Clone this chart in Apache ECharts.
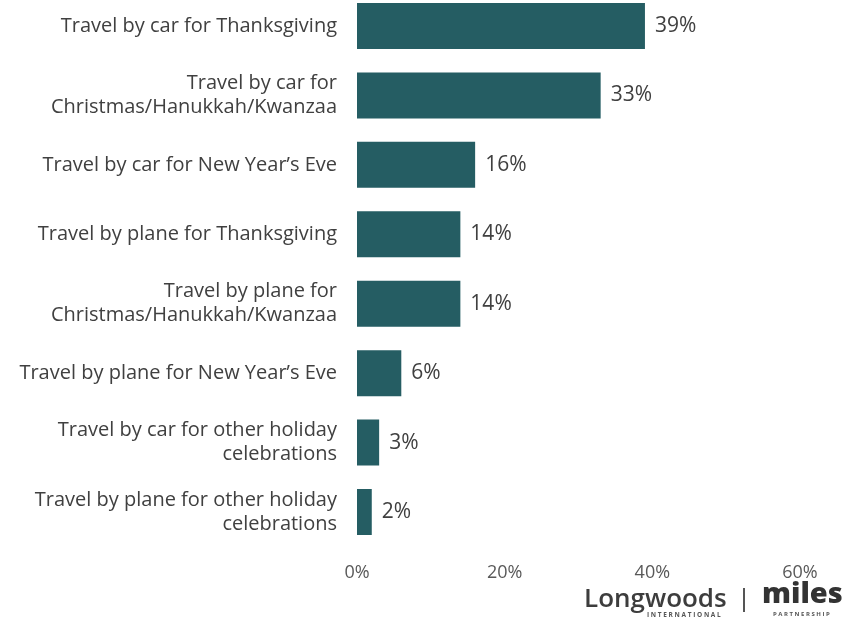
<!DOCTYPE html>
<html>
<head>
<meta charset="utf-8">
<script src="https://cdn.jsdelivr.net/npm/echarts@6/dist/echarts.min.js"></script>
<style>
  html, body { margin: 0; padding: 0; background: #fff; }
  #chart { width: 846px; height: 620px; }
</style>
</head>
<body>
<div id="chart"></div>
<script>
// Holiday travel intentions, share of respondents
const categories = [
  'Travel by car for Thanksgiving',
  'Travel by car for\nChristmas/Hanukkah/Kwanzaa',
  'Travel by car for New Year\u2019s Eve',
  'Travel by plane for Thanksgiving',
  'Travel by plane for\nChristmas/Hanukkah/Kwanzaa',
  'Travel by plane for New Year\u2019s Eve',
  'Travel by car for other holiday\ncelebrations',
  'Travel by plane for other holiday\ncelebrations'
];
const values = [39, 33, 16, 14, 14, 6, 3, 2];
const xTicks = [0, 20, 40, 60];

const FONT = '"Open Sans", "Noto Sans", sans-serif';
const chart = echarts.init(document.getElementById('chart'));

chart.setOption({
  animation: false,
  // category centres sit on the grid edges (boundaryGap: false)
  grid: { left: 357, right: 46, top: 26, bottom: 108, containLabel: false },
  xAxis: {
    type: 'value',
    min: xTicks[0],
    max: xTicks[xTicks.length - 1],
    interval: xTicks[1] - xTicks[0],
    axisLine: { show: false },
    axisTick: { show: false },
    splitLine: { show: false },
    axisLabel: {
      formatter: '{value}%',
      fontFamily: FONT,
      fontSize: 18,
      color: '#595959',
      margin: 52
    }
  },
  yAxis: {
    type: 'category',
    inverse: true,
    boundaryGap: false,
    data: categories,
    axisLine: { show: false },
    axisTick: { show: false },
    splitLine: { show: false },
    axisLabel: {
      fontFamily: FONT,
      fontSize: 20,
      lineHeight: 24,
      color: '#404040',
      align: 'right',
      margin: 20
    }
  },
  series: [{
    type: 'bar',
    data: values,
    barWidth: 46,
    itemStyle: { color: '#255D63' },
    label: {
      show: true,
      position: 'right',
      distance: 10,
      formatter: '{c}%',
      fontFamily: FONT,
      fontSize: 21,
      color: '#404040'
    }
  }],
  graphic: [
    {
      type: 'text', left: 584, top: 587,
      style: { text: 'Longwoods', font: '600 26px ' + FONT, fill: '#3d3d3d' }
    },
    {
      type: 'text', left: 647, top: 612,
      style: { text: 'I N T E R N A T I O N A L', font: 'bold 6.5px ' + FONT, fill: '#555' }
    },
    {
      type: 'rect', shape: { x: 743, y: 588, width: 2, height: 24 },
      style: { fill: '#555' }
    },
    {
      type: 'text', left: 762, top: 580,
      style: { text: 'miles', font: '900 29px ' + FONT, fill: '#333' }
    },
    {
      type: 'text', left: 773, top: 611,
      style: { text: 'P A R T N E R S H I P', font: 'bold 6px ' + FONT, fill: '#555' }
    }
  ]
});
</script>
</body>
</html>
